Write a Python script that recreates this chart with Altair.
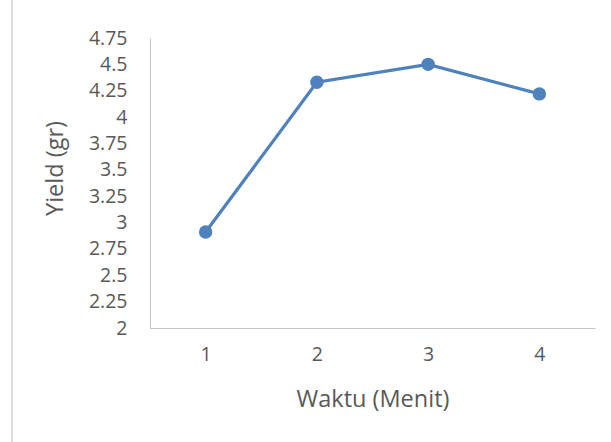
import altair as alt
import pandas as pd

# Yield measured at each extraction time
waktu = ["1", "2", "3", "4"]
yield_gr = [2.91, 4.33, 4.50, 4.22]
y_ticks = [2, 2.25, 2.5, 2.75, 3, 3.25, 3.5, 3.75, 4, 4.25, 4.5, 4.75]

df = pd.DataFrame({"Waktu": waktu, "Yield": yield_gr})

FONT = "Open Sans"
TEXT = "#595959"
AXIS = "#c4c4c4"

x = alt.X(
    "Waktu:O",
    sort=waktu,
    scale=alt.Scale(type="point", padding=0.5),
    axis=alt.Axis(
        title="Waktu (Menit)",
        labelAngle=0,
        ticks=False,
        grid=False,
        domainColor=AXIS,
        domainWidth=1,
        labelColor=TEXT,
        labelFont=FONT,
        labelFontSize=19.5,
        labelPadding=17,
        titleColor=TEXT,
        titleFont=FONT,
        titleFontSize=23.5,
        titleFontWeight="normal",
        titleBaseline="middle",
        titleY=71,
    ),
)
y = alt.Y(
    "Yield:Q",
    scale=alt.Scale(domain=[2, 4.75], nice=False, zero=False),
    axis=alt.Axis(
        title="Yield (gr)",
        values=y_ticks,
        format=".2~f",
        ticks=False,
        grid=False,
        domainColor=AXIS,
        domainWidth=1,
        labelColor=TEXT,
        labelFont=FONT,
        labelFontSize=19.5,
        labelPadding=23,
        titleColor=TEXT,
        titleFont=FONT,
        titleFontSize=23.5,
        titleFontWeight="normal",
        titleAngle=-90,
        titleAlign="center",
        titleBaseline="middle",
        titleX=-95,
        titleY=130,
    ),
)

line = alt.Chart(df).mark_line(color="#4f81bd", strokeWidth=3.2).encode(x=x, y=y)
points = alt.Chart(df).mark_point(
    filled=True, color="#4f81bd", size=180, opacity=1
).encode(x=x, y=y)

# Chart frame edge on the left
frame = alt.Chart(df).mark_rule(color="#d9d9d9", strokeWidth=1).encode(
    x=alt.value(-138), y=alt.value(-38), y2=alt.value(404)
)

chart = (
    alt.layer(frame, line, points)
    .properties(
        width=445,
        height=290,
        autosize=alt.AutoSizeParams(type="none"),
        padding={"left": 150, "top": 38, "right": 16, "bottom": 114},
        background="white",
    )
    .configure_view(stroke=None)
)

chart.save("out.html", embed_options={"renderer": "svg", "actions": False})
